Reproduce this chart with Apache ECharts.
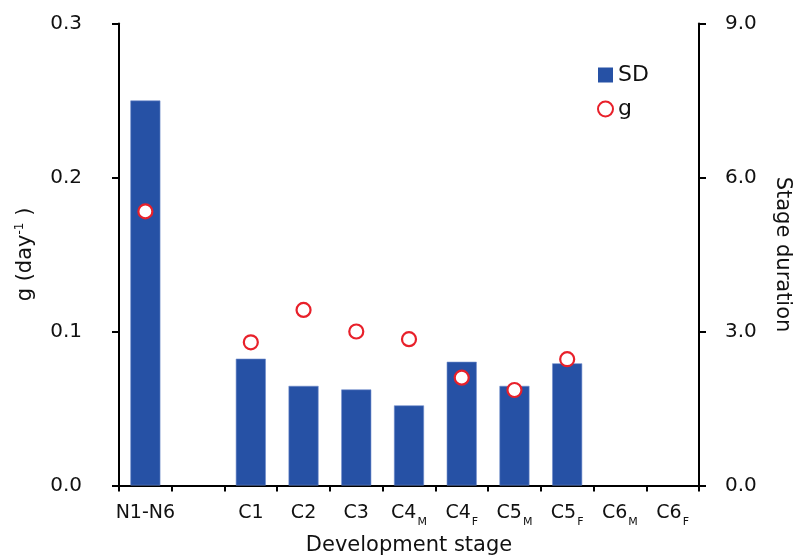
<!DOCTYPE html>
<html><head><meta charset="utf-8">
<script src="https://cdn.jsdelivr.net/npm/echarts@6/dist/echarts.min.js"></script>
<style>html,body{margin:0;padding:0;background:#fff}#c{width:794px;height:558px}</style>
</head><body><div id="c"></div>
<script>
const categories = ['N1-N6', '', 'C1', 'C2', 'C3', 'C4|M', 'C4|F', 'C5|M', 'C5|F', 'C6|M', 'C6|F'];
const sdValues = [7.5, null, 2.47, 1.94, 1.87, 1.56, 2.41, 1.94, 2.38, null, null];
const gValues = [0.178, null, 0.093, 0.114, 0.100, 0.095, 0.070, 0.062, 0.082, null, null];
const leftTicks = {min: 0, max: 0.3, interval: 0.1};
const rightTicks = {min: 0, max: 9, interval: 3};

const FONT = 'DejaVu Sans';
const chart = echarts.init(document.getElementById('c'), null, {renderer: 'canvas'});
const axisLine = {show: true, lineStyle: {color: '#000', width: 2}};
chart.setOption({
  animation: false,
  textStyle: {fontFamily: FONT},
  grid: {left: 119, right: 95, top: 23.5, bottom: 72.5, outerBoundsMode: 'none', containLabel: false},
  legend: {
    orient: 'vertical', left: 592, top: 59, itemWidth: 15, itemHeight: 15, itemGap: 12,
    textStyle: {fontFamily: FONT, fontSize: 22, color: '#111'},
    data: [{name: 'SD', icon: 'rect', itemStyle: {borderWidth: 0}}, {name: 'g'}]
  },
  xAxis: {
    type: 'category', data: categories,
    name: 'Development stage', nameLocation: 'middle', nameGap: 50,
    nameTextStyle: {fontFamily: FONT, fontSize: 21, color: '#111'},
    axisLine: axisLine,
    axisTick: {show: true, length: 6, lineStyle: {color: '#000', width: 2}},
    axisLabel: {
      margin: 13, interval: 0, color: '#111',
      formatter: function (v) {
        const p = v.split('|');
        return p.length > 1 ? '{b|' + p[0] + '}{s|' + p[1] + '}' : '{b|' + v + '}';
      },
      rich: {
        b: {fontFamily: FONT, fontSize: 19, color: '#111', lineHeight: 24, verticalAlign: 'bottom'},
        s: {fontFamily: FONT, fontSize: 11, color: '#111', lineHeight: 24, verticalAlign: 'bottom', padding: [0, 0, -5, 1]}
      }
    },
    splitLine: {show: false}
  },
  yAxis: [{
    type: 'value', min: leftTicks.min, max: leftTicks.max, interval: leftTicks.interval,
    name: '{n|g (day}{sup|-1}{n| )}', nameLocation: 'middle', nameGap: 82, nameRotate: 90,
    nameTextStyle: {rich: {
      n: {fontFamily: FONT, fontSize: 21, color: '#111'},
      sup: {fontFamily: FONT, fontSize: 12, color: '#111', padding: [0, 0, 11, 0]}
    }},
    axisLine: axisLine,
    axisTick: {show: true, length: 7, lineStyle: {color: '#000', width: 2}},
    axisLabel: {margin: 37, fontSize: 20, color: '#111', formatter: v => v.toFixed(1)},
    splitLine: {show: false}
  }, {
    type: 'value', min: rightTicks.min, max: rightTicks.max, interval: rightTicks.interval,
    position: 'right',
    name: 'Stage duration', nameLocation: 'middle', nameGap: 73, nameRotate: -90,
    nameTextStyle: {fontFamily: FONT, fontSize: 21, color: '#111'},
    axisLine: axisLine,
    axisTick: {show: true, length: 7, lineStyle: {color: '#000', width: 2}},
    axisLabel: {margin: 26, fontSize: 20, color: '#111', formatter: v => v.toFixed(1)},
    splitLine: {show: false}
  }],
  series: [{
    name: 'SD', type: 'bar', yAxisIndex: 1, data: sdValues, barWidth: 30,
    itemStyle: {color: '#2651A5', borderColor: '#6f8ccb', borderWidth: 0.6}
  }, {
    name: 'g', type: 'scatter', yAxisIndex: 0, data: gValues, symbol: 'circle', symbolSize: 14,
    itemStyle: {color: '#fff', borderColor: '#E8202A', borderWidth: 2.2, opacity: 1}
  }]
});
</script></body></html>
